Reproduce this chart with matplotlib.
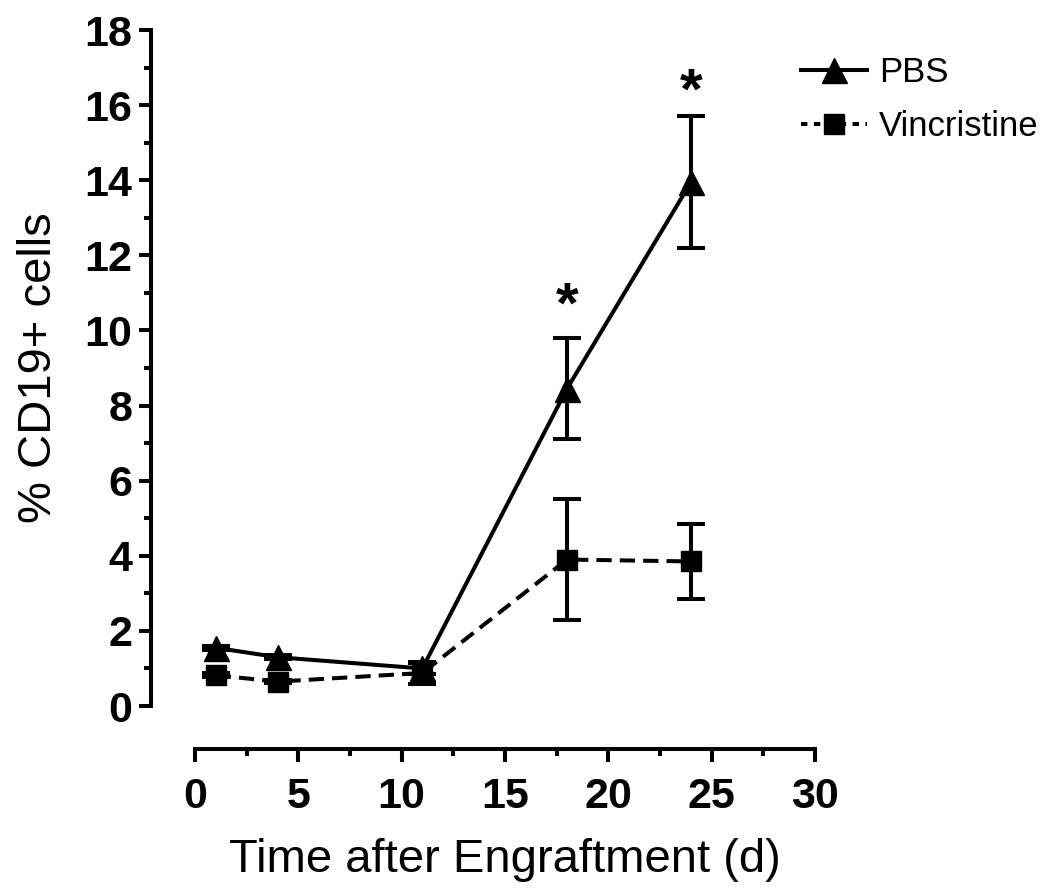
import matplotlib
matplotlib.use("Agg")
import matplotlib.pyplot as plt
from matplotlib.lines import Line2D
from matplotlib.ticker import MultipleLocator

plt.rcParams['font.family'] = ['Liberation Sans', 'DejaVu Sans']

# days after engraftment
DAYS = [1, 4, 11, 18, 24]
PBS = [1.55, 1.3, 1.0, 8.45, 13.95]
PBS_ERR = [0.05, 0.05, 0.15, 1.35, 1.75]
VINC = [0.82, 0.65, 0.88, 3.9, 3.85]
VINC_ERR = [0.05, 0.05, 0.3, 1.6, 1.0]
STARS_X = [18, 24]
STARS_Y = [10.6, 16.3]

fig = plt.figure(figsize=(10.5, 8.91), dpi=100)
ax = fig.add_axes([0.1857, 0.2076, 0.5905, 0.7587])

lw = 2.9
dash = (0, (3.8, 2.0))
ax.errorbar(DAYS, PBS, yerr=PBS_ERR, color="black", lw=lw, marker="^", ms=18,
            capsize=10, capthick=lw, elinewidth=lw, zorder=3)
ax.errorbar(DAYS, VINC, yerr=VINC_ERR, color="black", lw=lw, marker="s", ms=15,
            linestyle=dash, capsize=10, capthick=lw, elinewidth=lw, zorder=3)

for x, y in zip(STARS_X, STARS_Y):
    ax.text(x, y, "*", ha="center", va="center", fontsize=42, fontweight="bold")

ax.set_xlim(0, 30)
ax.set_ylim(0, 18)
ax.xaxis.set_major_locator(MultipleLocator(5))
ax.xaxis.set_minor_locator(MultipleLocator(2.5))
ax.yaxis.set_major_locator(MultipleLocator(2))
ax.yaxis.set_minor_locator(MultipleLocator(1))

for s in ["top", "right"]:
    ax.spines[s].set_visible(False)
ax.spines["left"].set_position(("outward", 32))
ax.spines["bottom"].set_position(("outward", 31))
for s in ["left", "bottom"]:
    ax.spines[s].set_linewidth(lw)

ax.tick_params(which="major", length=9, width=lw, labelsize=31, pad=4)
ax.tick_params(axis="x", which="major", pad=11)
ax.tick_params(which="minor", length=5, width=lw)
for lab in ax.get_xticklabels() + ax.get_yticklabels():
    lab.set_fontweight("bold")

ax.set_xlabel("Time after Engraftment (d)", fontsize=34, labelpad=15)
ax.set_ylabel("% CD19+ cells", fontsize=34, labelpad=17)

handles = [
    Line2D([], [], color="black", lw=lw, marker="^", ms=18),
    Line2D([], [], color="black", lw=lw, marker="s", ms=15, linestyle=(0, (1.6, 1.6))),
]
fig.legend(handles, ["PBS", "Vincristine"], loc="upper left",
           bbox_to_anchor=(0.763, 0.937), frameon=False, fontsize=25,
           handlelength=1.9, handletextpad=0.35, labelspacing=0.6,
           borderaxespad=0.0, borderpad=0.0)

fig.savefig("out.png", dpi=100)
